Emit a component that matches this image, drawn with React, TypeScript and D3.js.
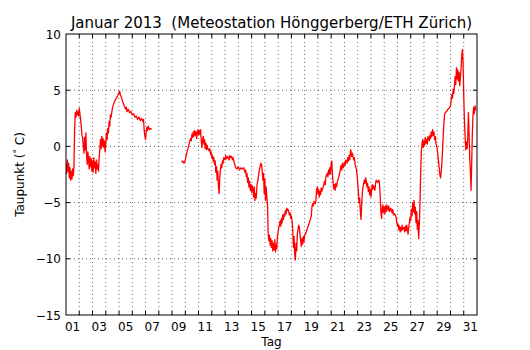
import React from 'react';
import * as d3 from 'd3';

// Taupunkt, Januar 2013 — [Tag seit 1. Jan 00:00, °C]
const segmentA: [number, number][] = [
  [0.00,-1.6],[0.05,-2.4],[0.10,-1.2],[0.15,-2.2],[0.20,-1.5],[0.25,-2.8],[0.30,-1.9],[0.35,-3.0],[0.40,-2.2],[0.45,-2.9],
  [0.50,-2.0],[0.55,-2.6],[0.60,-1.8],[0.65,1.5],[0.70,3.0],[0.75,2.6],[0.80,3.2],[0.85,2.8],[0.90,3.1],[0.95,2.7],
  [1.00,3.4],[1.05,2.9],[1.10,2.4],[1.15,1.8],[1.20,1.0],[1.25,0.8],[1.30,0.1],[1.35,-0.6],[1.40,0.8],[1.45,-0.3],
  [1.50,1.2],[1.55,-0.8],[1.60,-1.6],[1.65,-0.5],[1.70,-1.2],[1.75,-2.0],[1.80,-0.9],[1.85,-1.8],[1.90,-1.1],[1.95,-2.2],
  [2.00,-1.3],[2.05,-2.3],[2.10,-1.0],[2.15,-1.9],[2.20,-1.4],[2.25,-2.4],[2.30,-1.2],[2.35,-2.0],[2.40,-1.6],[2.45,-2.2],
  [2.50,-1.0],[2.55,-0.3],[2.60,0.6],[2.65,-0.2],[2.70,0.9],[2.75,0.1],[2.80,0.7],[2.85,-0.1],[2.90,0.5],[2.95,-0.5],
  [3.00,0.2],[3.05,1.2],[3.10,0.6],[3.15,1.6],[3.20,1.2],[3.25,2.2],[3.30,1.8],[3.35,2.8],[3.40,2.6],[3.50,3.4],
  [3.60,3.8],[3.70,4.1],[3.80,4.3],[3.90,4.5],[4.00,4.8],[4.05,4.9],[4.10,4.6],[4.20,4.3],[4.30,3.9],[4.40,3.6],
  [4.50,3.3],[4.55,3.5],[4.60,3.1],[4.70,3.3],[4.80,3.0],[4.90,3.1],[5.00,2.8],[5.10,2.9],[5.20,2.6],[5.30,2.7],
  [5.40,2.4],[5.50,2.6],[5.60,2.3],[5.70,2.5],[5.80,2.2],[5.85,2.4],[5.90,1.4],[5.95,0.9],[6.00,0.6],[6.05,1.3],
  [6.10,1.7],[6.15,1.4],[6.20,1.8],[6.30,1.5],[6.40,1.6],[6.45,1.5],
];

const segmentB: [number, number][] = [
  [8.70,-1.4],[8.80,-1.3],[8.90,-1.5],[9.00,-1.2],[9.10,-0.6],[9.20,-0.2],[9.30,0.3],[9.40,0.7],[9.45,0.5],[9.50,1.1],
  [9.55,0.8],[9.60,1.3],[9.65,0.9],[9.70,1.4],[9.75,1.0],[9.80,1.3],[9.85,0.7],[9.90,1.2],[9.95,1.5],[10.00,1.0],
  [10.05,1.4],[10.10,1.1],[10.15,1.5],[10.20,0.6],[10.25,-0.1],[10.30,0.5],[10.35,0.9],[10.40,0.2],[10.45,0.6],[10.50,-0.2],
  [10.55,0.3],[10.60,-0.3],[10.65,0.1],[10.70,-0.2],[10.80,-0.4],[10.85,-0.2],[10.90,-0.7],[10.95,-0.5],[11.00,-1.0],[11.05,-0.8],
  [11.10,-1.3],[11.15,-1.0],[11.20,-1.6],[11.25,-1.3],[11.30,-2.3],[11.35,-1.8],[11.40,-3.0],[11.45,-2.2],[11.50,-3.6],[11.55,-4.2],
  [11.60,-2.8],[11.65,-2.0],[11.70,-1.6],[11.75,-1.9],[11.80,-1.3],[11.85,-1.5],[11.90,-1.0],[12.00,-1.2],[12.05,-0.8],[12.10,-1.1],
  [12.20,-0.9],[12.30,-1.2],[12.35,-0.8],[12.40,-1.0],[12.50,-0.9],[12.55,-1.2],[12.60,-1.0],[12.70,-1.5],[12.80,-1.9],[12.90,-2.0],
  [13.00,-1.8],[13.10,-2.1],[13.20,-1.9],[13.30,-2.0],[13.40,-1.9],[13.50,-2.3],[13.55,-2.1],[13.60,-2.7],[13.65,-2.4],[13.70,-3.2],
  [13.75,-2.8],[13.80,-3.6],[13.85,-3.1],[13.90,-3.9],[13.95,-3.4],[14.00,-4.1],[14.05,-3.5],[14.10,-3.8],[14.15,-4.5],[14.20,-3.6],
  [14.25,-4.8],[14.30,-4.2],[14.35,-4.6],[14.40,-3.5],[14.50,-2.8],[14.60,-2.0],[14.70,-1.5],[14.75,-1.6],[14.80,-2.2],[14.85,-3.0],
  [14.90,-2.4],[14.95,-4.2],[15.00,-2.9],[15.05,-4.8],[15.10,-3.6],[15.15,-4.5],[15.20,-5.2],[15.25,-7.8],[15.30,-8.4],[15.35,-7.9],
  [15.40,-8.8],[15.45,-8.2],[15.50,-9.0],[15.55,-8.4],[15.60,-9.3],[15.65,-8.6],[15.70,-9.2],[15.75,-8.3],[15.80,-9.4],[15.85,-8.7],
  [15.90,-9.1],[15.95,-8.0],[16.00,-7.6],[16.05,-7.2],[16.10,-7.0],[16.15,-6.6],[16.20,-7.1],[16.25,-6.4],[16.30,-6.8],[16.35,-6.1],
  [16.40,-6.5],[16.45,-6.0],[16.50,-6.2],[16.55,-5.7],[16.60,-6.0],[16.65,-5.5],[16.70,-5.7],[16.75,-5.6],[16.80,-5.8],[16.85,-6.1],
  [16.90,-5.9],[16.95,-6.4],[17.00,-6.2],[17.05,-6.6],[17.10,-7.4],[17.15,-9.0],[17.20,-8.0],[17.25,-9.6],[17.30,-10.1],[17.35,-8.6],
  [17.40,-9.3],[17.45,-7.8],[17.50,-7.4],[17.55,-7.0],[17.60,-7.2],[17.65,-7.8],[17.70,-8.4],[17.75,-8.9],[17.80,-8.2],[17.85,-8.7],
  [17.90,-8.0],[17.95,-8.5],[18.00,-7.9],[18.10,-7.7],[18.20,-7.3],[18.30,-7.0],[18.40,-6.6],[18.50,-6.2],[18.55,-5.4],[18.60,-5.1],
  [18.65,-5.3],[18.70,-4.9],[18.80,-5.1],[18.85,-4.8],[18.90,-3.9],[18.95,-3.6],[19.00,-4.2],[19.05,-3.8],[19.10,-4.5],[19.15,-4.0],
  [19.20,-4.3],[19.25,-3.7],[19.30,-4.0],[19.40,-3.6],[19.50,-3.1],[19.55,-3.4],[19.60,-2.7],[19.70,-2.4],[19.75,-2.7],[19.80,-2.1],
  [19.85,-2.5],[19.90,-1.9],[19.95,-2.4],[20.00,-1.5],[20.05,-1.3],[20.10,-2.6],[20.15,-3.2],[20.20,-3.8],[20.25,-3.4],[20.30,-3.9],
  [20.35,-3.3],[20.40,-3.6],[20.50,-3.0],[20.60,-2.6],[20.70,-2.0],[20.75,-1.7],[20.80,-2.1],[20.85,-1.5],[20.90,-1.9],[21.00,-1.4],
  [21.05,-1.7],[21.10,-1.2],[21.20,-1.5],[21.25,-1.0],[21.30,-1.3],[21.35,-0.8],[21.40,-1.2],[21.45,-0.5],[21.48,-0.3],[21.55,-0.9],
  [21.60,-0.6],[21.70,-1.2],[21.75,-1.0],[21.80,-1.6],[21.90,-2.0],[21.95,-2.5],[22.00,-3.2],[22.05,-4.0],[22.10,-5.0],[22.15,-4.6],
  [22.20,-5.8],[22.25,-6.5],[22.30,-5.2],[22.35,-4.2],[22.40,-3.6],[22.50,-3.0],[22.55,-3.3],[22.60,-2.8],[22.65,-3.1],[22.70,-3.6],
  [22.75,-3.3],[22.80,-4.0],[22.85,-3.6],[22.90,-4.3],[22.95,-3.8],[23.00,-4.5],[23.05,-3.9],[23.10,-3.4],[23.15,-3.8],[23.20,-3.5],
  [23.30,-3.9],[23.35,-3.3],[23.40,-3.0],[23.50,-3.2],[23.60,-3.0],[23.65,-3.4],[23.70,-4.5],[23.75,-5.8],[23.80,-6.4],[23.85,-5.6],
  [23.90,-5.2],[23.95,-5.9],[24.00,-5.4],[24.05,-6.0],[24.10,-5.3],[24.15,-5.8],[24.20,-5.2],[24.30,-5.7],[24.35,-5.3],[24.40,-5.8],
  [24.50,-5.5],[24.60,-5.9],[24.65,-5.6],[24.70,-6.1],[24.80,-6.0],[24.90,-6.3],[24.95,-6.8],[25.00,-7.1],[25.05,-6.9],[25.10,-7.4],
  [25.15,-7.1],[25.20,-7.6],[25.25,-7.2],[25.30,-7.5],[25.35,-7.0],[25.40,-7.4],[25.50,-7.2],[25.55,-7.6],[25.60,-7.1],[25.65,-7.5],
  [25.70,-7.0],[25.75,-7.4],[25.80,-7.8],[25.85,-7.2],[25.90,-6.8],[25.95,-6.3],[26.00,-6.6],[26.05,-5.6],[26.10,-6.2],[26.15,-5.0],
  [26.20,-5.8],[26.25,-4.8],[26.30,-6.0],[26.35,-5.4],[26.40,-6.8],[26.45,-5.8],[26.50,-7.4],[26.55,-6.6],[26.60,-8.2],[26.65,-7.0],
  [26.70,-5.0],[26.75,-2.5],[26.80,-0.5],[26.85,0.2],[26.90,0.6],[26.95,-0.1],[27.00,0.5],[27.05,0.1],[27.10,0.8],[27.15,0.3],
  [27.20,0.6],[27.25,0.2],[27.30,0.9],[27.40,0.5],[27.45,1.0],[27.50,0.7],[27.55,1.3],[27.60,0.9],[27.65,1.5],[27.70,1.0],
  [27.75,1.3],[27.80,0.6],[27.85,0.9],[27.90,0.3],[28.00,-0.2],[28.05,-0.8],[28.10,-1.4],[28.15,-1.9],[28.20,-2.5],[28.25,-2.8],
  [28.30,-2.3],[28.35,-1.5],[28.40,-0.4],[28.45,0.9],[28.50,2.0],[28.55,2.8],[28.60,3.0],[28.70,3.1],[28.80,3.3],[28.90,3.4],
  [29.00,3.6],[29.05,4.1],[29.10,4.6],[29.15,4.3],[29.20,5.1],[29.25,4.7],[29.30,5.4],[29.35,6.2],[29.40,5.5],[29.45,7.0],
  [29.50,6.0],[29.55,6.8],[29.60,5.8],[29.65,6.6],[29.70,5.4],[29.75,6.2],[29.80,7.0],[29.85,8.1],[29.90,8.6],[29.95,7.4],
  [30.00,4.5],[30.05,2.4],[30.10,1.0],[30.15,-0.3],[30.20,0.4],[30.25,-0.2],[30.30,0.6],[30.35,3.0],[30.40,1.2],[30.45,-1.0],
  [30.50,-2.2],[30.55,-3.9],[30.60,-1.5],[30.65,1.2],[30.70,2.8],[30.75,3.5],[30.80,2.9],[30.85,3.6],[30.90,3.2],
];

const segments = [segmentA, segmentB];
const dayLabels = ['01','03','05','07','09','11','13','15','17','19','21','23','25','27','29','31'];
const yTicks = [-15, -10, -5, 0, 5, 10];
const yGrid = [-10, -5, 0, 5];

const W = 530, H = 350;
const left = 66, right = 477, top = 34, bottom = 315;
const font = '"DejaVu Sans", sans-serif';

export default function App() {
  const x = d3.scaleLinear().domain([0, 31]).range([left, right]);
  const y = d3.scaleLinear().domain([-15, 10]).range([bottom, top]);
  const line = d3.line<[number, number]>().x(d => x(d[0])).y(d => y(d[1]));
  const days = d3.range(1, 31);

  return (
    <svg width={W} height={H} style={{ position: 'absolute', left: 0, top: 0, background: '#fff' }}>
      <text x={(left + right) / 2} y={28} textAnchor="middle" fontFamily={font} fontSize={15} style={{ whiteSpace: 'pre' }}>
        {'Januar 2013  (Meteostation Hönggerberg/ETH Zürich)'}
      </text>

      {/* grid */}
      <g stroke="#000" strokeWidth={0.6} strokeDasharray="1,3">
        {days.map(d => (
          <line key={'vg' + d} x1={x(d)} x2={x(d)} y1={top} y2={bottom} />
        ))}
        {yGrid.map(v => (
          <line key={'hg' + v} x1={left} x2={right} y1={y(v)} y2={y(v)} />
        ))}
      </g>

      {/* data */}
      <g clipPath="url(#plotclip)">
        {segments.map((s, i) => (
          <path key={i} d={line(s) || ''} fill="none" stroke="#ff0000" strokeWidth={1.3} strokeLinejoin="round" />
        ))}
      </g>
      <defs>
        <clipPath id="plotclip">
          <rect x={left} y={top} width={right - left} height={bottom - top} />
        </clipPath>
      </defs>

      {/* ticks inside */}
      <g stroke="#000" strokeWidth={1}>
        {days.map(d => (
          <g key={'t' + d}>
            <line x1={x(d)} x2={x(d)} y1={bottom} y2={bottom - 4} />
            <line x1={x(d)} x2={x(d)} y1={top} y2={top + 4} />
          </g>
        ))}
        {yGrid.map(v => (
          <g key={'yt' + v}>
            <line x1={left} x2={left + 4} y1={y(v)} y2={y(v)} />
            <line x1={right} x2={right - 4} y1={y(v)} y2={y(v)} />
          </g>
        ))}
      </g>

      <rect x={left} y={top} width={right - left} height={bottom - top} fill="none" stroke="#000" strokeWidth={1} />

      {/* tick labels */}
      <g fontFamily={font} fontSize={12} fill="#000">
        {dayLabels.map(l => (
          <text key={l} x={x(+l - 0.5)} y={331} textAnchor="middle">{l}</text>
        ))}
        {yTicks.map(v => (
          <text key={v} x={61} y={y(v) + 4.5} textAnchor="end">{v < 0 ? '\u2212' + Math.abs(v) : v}</text>
        ))}
      </g>

      <text x={(left + right) / 2} y={346} textAnchor="middle" fontFamily={font} fontSize={12}>Tag</text>
      <text transform={`translate(24,${(top + bottom) / 2}) rotate(-90)`} textAnchor="middle" fontFamily={font} fontSize={12}>
        Taupunkt (<tspan dy={-4} fontSize={9}>°</tspan><tspan dy={4}> C)</tspan>
      </text>
    </svg>
  );
}
